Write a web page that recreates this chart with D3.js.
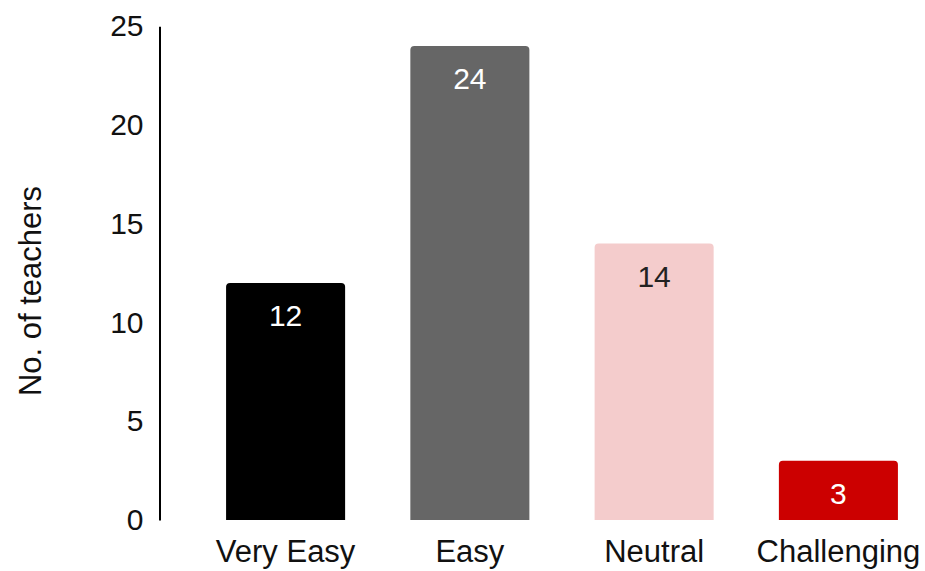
<!DOCTYPE html>
<html><head><meta charset="utf-8">
<script src="https://cdn.jsdelivr.net/npm/d3@7"></script>
<style>body{margin:0;background:#fff}svg{display:block}text{font-family:"Liberation Sans",Arial,sans-serif}</style>
</head><body>
<svg id="c" width="925" height="571"></svg>
<script>
const categories = ["Very Easy", "Easy", "Neutral", "Challenging"];
const values = [12, 24, 14, 3];
const barColors = ["#000000", "#666666", "#f4cccc", "#cc0000"];
const labelColors = ["#ffffff", "#ffffff", "#222222", "#ffffff"];
const yTicks = [0, 5, 10, 15, 20, 25];
const yTitle = "No. of teachers";

const svg = d3.select("#c");
const x = d3.scaleBand().domain(categories).range([159, 965]).paddingInner(0.354).paddingOuter(0.364);
const y = d3.scaleLinear().domain([0, 25]).range([520, 26.25]);

function topRounded(x0, y0, w, h, r) {
  r = Math.min(r, h, w / 2);
  return `M${x0},${y0 + h}V${y0 + r}Q${x0},${y0} ${x0 + r},${y0}H${x0 + w - r}Q${x0 + w},${y0} ${x0 + w},${y0 + r}V${y0 + h}Z`;
}

svg.selectAll("path.bar").data(values).join("path").attr("class", "bar")
  .attr("d", (d, i) => topRounded(x(categories[i]), y(d), x.bandwidth(), y(0) - y(d), 4))
  .attr("fill", (d, i) => barColors[i]);

svg.selectAll("text.val").data(values).join("text").attr("class", "val")
  .attr("x", (d, i) => x(categories[i]) + x.bandwidth() / 2)
  .attr("y", d => y(d) + 43)
  .attr("text-anchor", "middle").attr("font-size", 30)
  .attr("fill", (d, i) => labelColors[i])
  .text(d => d);

const yAxis = svg.append("g").attr("transform", "translate(159.5,0)")
  .call(d3.axisLeft(y).tickValues(yTicks).tickSize(0).tickPadding(16));
yAxis.select(".domain").attr("stroke", "#000").attr("stroke-width", 2);
yAxis.selectAll("text").attr("font-size", 30).attr("fill", "#111").attr("font-family", '"Liberation Sans",Arial,sans-serif');

const xAxis = svg.append("g").attr("transform", "translate(0,520)")
  .call(d3.axisBottom(x).tickSize(0).tickPadding(20));
xAxis.select(".domain").remove();
xAxis.selectAll("text").attr("font-size", 31).attr("fill", "#111").attr("font-family", '"Liberation Sans",Arial,sans-serif');

svg.append("text").attr("transform", "translate(41,291) rotate(-90)")
  .attr("text-anchor", "middle").attr("font-size", 31).attr("fill", "#111").text(yTitle);
</script>
</body></html>
